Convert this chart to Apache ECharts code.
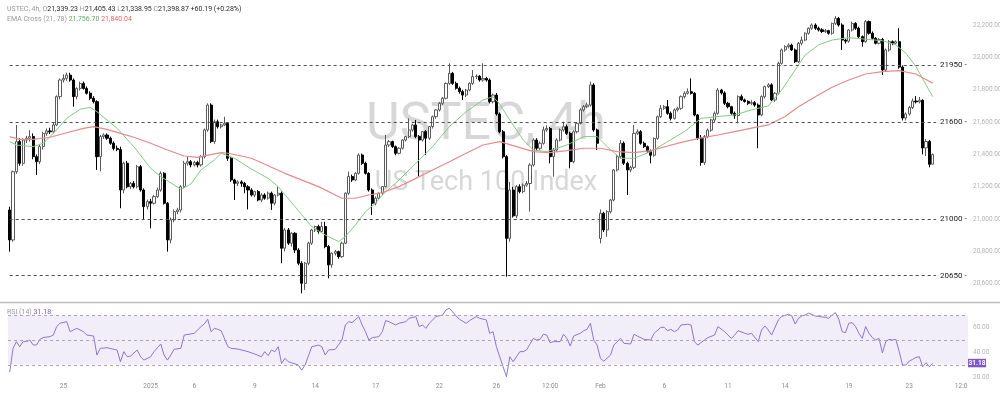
<!DOCTYPE html>
<html>
<head>
<meta charset="utf-8">
<script src="https://cdn.jsdelivr.net/npm/echarts@6/dist/echarts.min.js"></script>
<style>
html,body{margin:0;padding:0;background:#ffffff;}
#chart{width:1000px;height:402px;}
</style>
</head>
<body>
<div id="chart"></div>
<script>
// ---- DATA ----
// USTEC 4h candles: [open, high, low, close]
const candles = [
[21056,21077,20799,20871],[20871,21300,20860,21293],[21293,21582,21280,21479],[21479,21500,21330,21345],[21345,21500,21330,21489],
[21489,21515,21470,21500],[21500,21550,21480,21510],[21510,21530,21370,21386],[21386,21400,21273,21355],[21355,21460,21340,21448],
[21448,21540,21430,21530],[21530,21560,21515,21545],[21545,21565,21525,21540],[21540,21600,21530,21582],[21582,21765,21575,21757],
[21757,21870,21740,21860],[21860,21895,21845,21870],[21870,21905,21855,21890],[21890,21905,21850,21860],[21860,21870,21695,21757],
[21757,21815,21740,21808],[21808,21850,21795,21839],[21839,21850,21800,21808],[21808,21820,21770,21778],[21778,21790,21735,21747],
[21747,21760,21715,21726],[21726,21735,21304,21386],[21386,21520,21295,21510],[21510,21530,21495,21520],[21520,21530,21490,21500],
[21500,21510,21460,21469],[21469,21480,21425,21437],[21437,21455,21420,21430],[21430,21448,21067,21180],[21180,21355,21160,21345],
[21345,21360,21190,21200],[21200,21230,21185,21221],[21221,21235,21190,21200],[21200,21335,21190,21324],[21324,21335,21170,21180],
[21180,21190,20995,21077],[21077,21120,21060,21108],[21108,21125,20943,21098],[21098,21150,21090,21139],[21139,21195,21130,21180],
[21180,21295,21170,21283],[21283,21290,21090,21098],[21098,21105,20799,20871],[20871,21010,20850,20995],[20995,21060,20980,21046],
[21046,21070,21030,21056],[21056,21210,21040,21200],[21200,21360,21190,21345],[21345,21386,21330,21355],[21355,21365,21320,21335],
[21335,21360,21325,21350],[21350,21360,21320,21335],[21335,21395,21325,21386],[21386,21560,21375,21551],[21551,21716,21540,21705],
[21705,21716,21470,21479],[21479,21615,21465,21602],[21602,21615,21560,21571],[21571,21590,21560,21582],[21582,21633,21575,21592],
[21592,21600,21360,21376],[21376,21385,21230,21242],[21242,21250,21118,21221],[21221,21240,21205,21230],[21230,21240,21200,21221],
[21221,21230,21160,21200],[21200,21210,21060,21180],[21180,21190,21140,21149],[21149,21175,21135,21170],[21170,21180,21110,21118],
[21118,21160,21105,21149],[21149,21160,21120,21129],[21129,21170,21120,21160],[21160,21170,21057,21098],[21098,21155,21085,21149],
[21149,21201,21140,21160],[21160,21170,20727,20820],[20820,20945,20800,20933],[20933,20945,20840,20851],[20851,20920,20830,20912],
[20912,20920,20790,20809],[20809,20820,20715,20727],[20727,20740,20541,20603],[20603,20735,20562,20727],[20727,20860,20715,20851],
[20851,20940,20840,20933],[20933,20960,20920,20954],[20954,20965,20910,20923],[20923,20984,20915,20954],[20954,20984,20820,20830],
[20830,20840,20634,20717],[20717,20795,20700,20789],[20789,20810,20775,20799],[20799,20805,20755,20768],[20768,20860,20760,20851],
[20851,21165,20845,21160],[21160,21294,21150,21263],[21263,21275,21230,21242],[21242,21290,21235,21283],[21283,21407,21275,21396],
[21396,21405,21335,21345],[21345,21355,21275,21283],[21283,21290,21170,21180],[21180,21190,21026,21098],[21098,21140,21085,21129],
[21129,21165,21120,21160],[21160,21205,21150,21201],[21201,21520,21195,21458],[21458,21490,21445,21479],[21479,21485,21440,21448],
[21448,21455,21395,21407],[21407,21445,21400,21438],[21438,21495,21430,21489],[21489,21515,21480,21510],[21510,21623,21500,21551],
[21551,21590,21540,21582],[21582,21613,21500,21510],[21510,21520,21263,21489],[21489,21545,21480,21541],[21541,21550,21396,21500],
[21500,21575,21490,21572],[21572,21640,21560,21633],[21633,21680,21620,21675],[21675,21725,21665,21716],[21716,21755,21705,21747],
[21747,21845,21740,21839],[21839,21963,21830,21901],[21901,21910,21830,21839],[21839,21850,21800,21809],[21809,21820,21775,21788],
[21788,21800,21736,21767],[21767,21805,21755,21798],[21798,21845,21790,21839],[21839,21922,21830,21881],[21881,21895,21865,21883],
[21883,21890,21850,21860],[21860,21963,21850,21870],[21870,21880,21850,21860],[21860,21870,21715,21726],[21726,21775,21715,21767],
[21767,21780,21640,21650],[21650,21660,21530,21540],[21540,21550,21375,21386],[21386,21395,20644,20881],[20881,21230,20860,21180],
[21180,21200,21010,21020],[21020,21210,21005,21200],[21200,21215,21160,21170],[21170,21220,21160,21210],[21210,21235,21200,21220],
[21220,21345,21046,21334],[21334,21500,21325,21489],[21489,21500,21425,21438],[21438,21480,21425,21469],[21469,21572,21460,21551],
[21551,21580,21540,21560],[21560,21570,21345,21386],[21386,21440,21262,21427],[21427,21500,21415,21489],[21489,21560,21480,21551],
[21551,21602,21540,21571],[21571,21585,21520,21530],[21530,21540,21314,21355],[21355,21550,21345,21540],[21540,21600,21530,21592],
[21592,21685,21585,21675],[21675,21705,21665,21695],[21695,21720,21685,21705],[21705,21850,21695,21829],[21829,21840,21540,21551],
[21551,21560,21427,21469],[20880,21060,20850,21036],[21036,21045,20920,20933],[20933,21055,20890,21046],[21046,21125,21035,21118],
[21118,21310,21110,21304],[21304,21395,21295,21386],[21386,21489,21375,21469],[21469,21480,21335,21345],[21345,21355,21149,21304],
[21304,21330,21290,21320],[21320,21582,21310,21530],[21530,21555,21520,21540],[21540,21550,21460,21469],[21469,21480,21440,21448],
[21448,21455,21410,21420],[21420,21430,21345,21395],[21395,21505,21385,21499],[21499,21640,21490,21633],[21633,21705,21625,21685],
[21685,21705,21675,21695],[21695,21736,21645,21654],[21654,21665,21610,21623],[21623,21685,21615,21675],[21675,21695,21665,21685],
[21685,21765,21675,21757],[21757,21790,21745,21778],[21778,21808,21770,21788],[21788,21870,21770,21778],[21778,21785,21635,21644],
[21644,21650,21490,21500],[21500,21520,21330,21350],[21350,21520,21335,21510],[21510,21560,21500,21550],[21550,21620,21540,21613],
[21613,21665,21600,21654],[21654,21810,21645,21798],[21798,21805,21770,21780],[21780,21790,21705,21716],[21716,21725,21685,21695],
[21695,21700,21645,21654],[21654,21665,21620,21640],[21640,21765,21592,21757],[21757,21770,21730,21737],[21737,21745,21720,21727],
[21727,21735,21705,21716],[21716,21735,21705,21720],[21720,21730,21695,21705],[21705,21715,21438,21644],[21644,21765,21635,21757],
[21757,21825,21745,21819],[21819,21840,21810,21830],[21830,21840,21730,21737],[21737,21785,21725,21778],[21778,21973,21770,21963],
[21963,22055,21955,22046],[22046,22075,22035,22066],[22066,22087,22055,22076],[22076,22085,22040,22046],[22046,22055,21965,21973],
[21973,22095,21965,22087],[22087,22128,22075,22107],[22107,22155,22100,22149],[22149,22185,22140,22180],[22180,22210,22170,22200],
[22200,22210,22170,22180],[22180,22190,22160,22170],[22170,22180,22150,22160],[22160,22175,22150,22165],[22165,22170,22140,22149],
[22149,22215,22140,22210],[22210,22256,22200,22241],[22241,22250,22190,22200],[22200,22210,22046,22107],[22107,22115,22085,22100],
[22100,22175,22090,22169],[22169,22221,22160,22210],[22210,22218,22170,22180],[22180,22190,22120,22128],[22128,22135,22066,22097],
[22097,22231,22090,22221],[22221,22228,22140,22149],[22149,22160,22110,22118],[22118,22125,22080,22087],[22087,22120,22080,22110],
[22110,22120,21891,21922],[21922,22055,21915,22046],[22046,22107,22035,22097],[22097,22105,22075,22087],[22087,22105,22080,22097],
[22097,22180,21930,21940],[21940,21950,21610,21625],[21625,21660,21610,21650],[21650,21700,21640,21690],[21690,21745,21680,21730],
[21730,21760,21715,21725],[21725,21755,21715,21735],[21735,21740,21400,21440],[21440,21495,21390,21480],[21480,21490,21320,21339],
[21339.23,21405.43,21338.95,21398.87]
];

// EMA 21 (green) points: [candle index, value]
const emaFast = [
[0,21479],[2,21458],[7,21448],[10,21469],[13,21530],[17,21623],[21,21679],[24,21691],[26,21664],[29,21613],[32,21561],[37,21448],
[42,21314],[45,21263],[49,21211],[51,21184],[54,21217],[57,21304],[61,21366],[63,21407],[67,21376],[72,21310],[77,21252],[80,21201],
[85,21077],[90,20953],[94,20902],[98,20861],[100,20892],[103,20964],[106,21046],[109,21098],[111,21149],[116,21242],[121,21345],
[126,21448],[131,21572],[136,21664],[141,21736],[144,21757],[146,21710],[149,21613],[153,21489],[156,21427],[160,21417],[166,21458],
[171,21510],[175,21510],[178,21448],[182,21376],[186,21376],[191,21417],[196,21479],[201,21541],[206,21623],[211,21634],[216,21644],
[221,21675],[226,21700],[230,21798],[234,21922],[237,22015],[241,22077],[245,22107],[250,22122],[255,22112],[260,22103],[264,22077],
[267,22025],[270,21943],[273,21830],[275,21756.7]
];

// EMA 78 (red) points: [candle index, value]
const emaSlow = [
[0,21510],[3,21493],[7,21493],[12,21506],[17,21534],[22,21561],[25,21572],[29,21555],[33,21530],[37,21506],[42,21469],[47,21427],
[52,21390],[56,21382],[59,21396],[63,21411],[65,21407],[69,21390],[72,21376],[82,21283],[92,21201],[99,21129],[103,21129],[107,21149],
[111,21164],[116,21201],[121,21252],[126,21304],[131,21355],[136,21407],[141,21458],[146,21479],[151,21448],[156,21417],[161,21411],
[166,21423],[171,21438],[176,21438],[181,21417],[186,21411],[191,21423],[196,21452],[201,21479],[206,21502],[211,21520],[216,21541],
[221,21562],[226,21582],[231,21634],[235,21695],[240,21757],[245,21815],[250,21860],[255,21897],[260,21912],[265,21918],[270,21897],
[275,21840.04]
];

// RSI (14) points: [candle index, value]
const rsi = [
[0,24],[1,43.3],[2,48.7],[3,44.6],[4,48.7],[5,48.7],[6,50],[7,46],[8,46],[9,50.5],[10,52],[12,52.7],[13,54],[14,60.8],[15,63.5],
[17,64.8],[18,56.7],[19,58.1],[20,59.4],[22,56.7],[23,54],[25,53.2],[26,37.9],[27,43.3],[29,43.8],[31,42.5],[32,41.9],[33,32.5],
[34,40.6],[35,36.5],[36,37.1],[38,41.9],[39,36.5],[40,33.8],[42,36.5],[43,40.6],[45,46.8],[46,37.9],[47,33.8],[48,37.9],[49,42.5],
[51,43.3],[52,54],[54,54.9],[55,55.4],[57,60.8],[58,63],[59,66.7],[60,56.7],[61,59.4],[62,58.6],[63,57.5],[65,44.6],[66,43.3],
[68,42.7],[71,40.6],[73,38.7],[75,36.5],[76,40.6],[77,37.4],[78,41.9],[79,40.6],[80,44.6],[81,31.1],[82,35.2],[83,32.5],[84,31.7],
[86,29.8],[87,25.7],[88,29.8],[90,44.6],[92,45.9],[93,44.6],[94,37.9],[95,41.9],[97,42.5],[99,50],[100,62.1],[101,64.8],[102,64],
[104,68.9],[105,62.1],[106,56.7],[107,50],[108,51.9],[110,52.7],[111,56.7],[112,65.6],[113,64.8],[115,62.1],[116,63.5],[118,64.8],
[119,67.5],[121,68.9],[122,60.8],[123,62.1],[124,59.4],[125,63.5],[127,68.9],[129,70.2],[130,74.3],[131,75.6],[133,69.4],[134,66.7],
[136,63.5],[137,65.6],[139,68.9],[140,67.5],[142,66.2],[143,55.4],[144,56.7],[145,44.6],[146,36.5],[147,28.4],[148,20.4],[149,36.5],
[150,32.5],[152,40.6],[153,40.6],[154,42],[156,51.3],[157,50],[158,50.5],[159,54.6],[160,54],[161,47.8],[162,48.7],[164,48.7],
[165,54.6],[166,51.3],[167,45.1],[168,53.2],[170,55.4],[171,57.5],[172,58.6],[173,63.5],[174,50],[175,45.9],[176,35.2],[177,32.9],
[179,37.9],[180,45.9],[182,51.3],[183,47.3],[185,46.8],[186,54.6],[187,53.2],[189,50.5],[191,50],[192,55.4],[194,60.2],[195,60.2],
[196,57.5],[197,58.6],[198,56.7],[199,58.1],[200,62.1],[202,62.7],[203,62.1],[204,48.7],[205,45.9],[207,50],[208,51.9],[210,54],
[211,60.8],[213,56.7],[215,51.3],[216,54],[217,57.5],[219,55.4],[220,54.6],[221,55.4],[223,48.7],[224,58.1],[225,61.3],[226,58.1],
[227,54],[229,66.2],[230,68.9],[232,70.8],[233,69.5],[234,62.9],[235,67.5],[236,69.4],[237,70.2],[238,71.6],[240,69.4],[241,68.9],
[243,68.3],[244,67.5],[245,70],[246,72.1],[247,66.7],[248,56.7],[249,55.9],[250,63.5],[251,64],[252,60.8],[253,55.4],[254,51.3],
[255,60.8],[256,55.4],[257,52],[258,50],[259,51.3],[260,39.5],[261,48.7],[262,50.5],[263,50],[264,50.5],[265,40.8],[266,29.8],
[267,29.8],[268,33],[269,34.4],[270,36],[271,36.5],[272,28.4],[273,31.7],[274,28.4],[275,31.18]
];

// Horizontal support / resistance levels
const levels = [21950, 21600, 21000, 20650];
// RSI guide levels
const rsiGuides = [70, 50, 30];

// Time-axis tick labels and the candle slot they sit under
const tickText = ['25','2025','6','9','14','17','22','26','12:00','Feb','6','11','14','19','23','12:00'];
const tickSlot = [16, 42, 55, 73, 91, 109, 128, 145, 161, 176, 195, 214, 231, 250, 268, 284];

// Header / legend texts
const headerSymbol = 'USTEC, 4h, ';
const headerOHLC = [['O','21,339.23'],['H','21,405.43'],['L','21,338.95'],['C','21,398.87']];
const headerChange = '+60.19 (+0.28%)';
const emaLabel = 'EMA Cross (21, 78)';
const emaValues = ['21,756.70', '21,840.04'];
const rsiLabel = 'RSI (14)';
const rsiLast = '31.18';
const watermark = ['USTEC, 4h', 'US Tech 100 Index'];

// ---- CHART ----
const SLOTS = 286; // candle slots incl. empty future area
const cats = [];
for (let i = 0; i < SLOTS; i++) cats.push(String(i));
const tickMap = {};
tickSlot.forEach((s, j) => { tickMap[s] = tickText[j]; });

const FONT = 'Roboto, "Open Sans", sans-serif';
const GREEN = '#86c98a';
const RED = '#e58a8e';
const PURPLE = '#7e57c2';

const chart = echarts.init(document.getElementById('chart'), null, {renderer: 'canvas'});

const hdrRich = {
  g: {fill: '#9a9a9a', fontSize: 7, fontFamily: FONT},
  d: {fill: '#2a2a2a', fontSize: 7, fontFamily: FONT},
  gr: {fill: '#5fae63', fontSize: 7, fontFamily: FONT},
  rd: {fill: '#e06666', fontSize: 7, fontFamily: FONT},
  pu: {fill: PURPLE, fontSize: 7, fontFamily: FONT}
};
let hdr1 = '{g|' + headerSymbol + '}';
headerOHLC.forEach(p => { hdr1 += '{g|' + p[0] + '}{d|' + p[1] + '}{g| }'; });
hdr1 += '{d|' + headerChange + '}';
const hdr2 = '{g|' + emaLabel + ' }{gr|' + emaValues[0] + '}{g| }{rd|' + emaValues[1] + '}';
const hdr3 = '{g|' + rsiLabel + ' }{pu|' + rsiLast + '}';

const option = {
  animation: false,
  backgroundColor: '#ffffff',
  grid: [
    {left: 8, right: 32, top: 0, height: 316.15, outerBoundsMode: 'none', containLabel: false},
    {left: 8, right: 32, top: 302.8, height: 74.4, outerBoundsMode: 'none', containLabel: false}
  ],
  xAxis: [
    {type: 'category', gridIndex: 0, data: cats, boundaryGap: true, show: false},
    {type: 'category', gridIndex: 1, data: cats, boundaryGap: true,
      axisLine: {show: false}, axisTick: {show: false}, splitLine: {show: false},
      axisLabel: {interval: 0, margin: 6, color: '#8c8c8c', fontSize: 6.5, fontFamily: FONT,
        formatter: (v, i) => tickMap[i] || ''}}
  ],
  yAxis: [
    {type: 'value', gridIndex: 0, position: 'right', min: 20400, max: 22354.56, interval: 200, scale: false,
      splitLine: {show: false}, axisLine: {show: false}, axisTick: {show: false},
      axisLabel: {margin: 5, color: '#b3b3b3', fontSize: 6.5, fontFamily: FONT, showMinLabel: false, showMaxLabel: false,
        formatter: v => (v < 20600 || v > 22200) ? '' : v.toLocaleString('en-US', {minimumFractionDigits: 2, maximumFractionDigits: 2})}},
    {type: 'value', gridIndex: 1, position: 'right', min: 20, max: 80, interval: 20,
      splitLine: {show: false}, axisLine: {show: false}, axisTick: {show: false},
      axisLabel: {margin: 5, color: '#b3b3b3', fontSize: 6.5, fontFamily: FONT,
        formatter: v => v > 60 ? '' : v.toFixed(2)}}
  ],
  series: [
    {
      type: 'candlestick', xAxisIndex: 0, yAxisIndex: 0, barWidth: 2.6, silent: true, z: 3,
      data: candles.map(r => [r[0], r[3], r[2], r[1]]),
      itemStyle: {color: '#ffffff', color0: '#000000', borderColor: '#5a5a5a', borderColor0: '#000000', borderWidth: 1},
      markLine: {
        silent: true, symbol: 'none', animation: false,
        lineStyle: {type: [3, 3], color: '#4d4d4d', width: 1},
        label: {show: true, position: 'end', distance: 4, color: '#1a1a1a', fontSize: 8, fontFamily: FONT,
          formatter: p => (p.name || p.value) + ' -'},
        emphasis: {disabled: true},
        data: levels.map(v => [{coord: [0, v], name: String(v)}, {coord: [candles.length, v]}])
      }
    },
    {type: 'line', xAxisIndex: 0, yAxisIndex: 0, data: emaFast, symbol: 'none', silent: true, z: 4,
      lineStyle: {color: GREEN, width: 1}},
    {type: 'line', xAxisIndex: 0, yAxisIndex: 0, data: emaSlow, symbol: 'none', silent: true, z: 4,
      lineStyle: {color: RED, width: 1.2}},
    {type: 'line', xAxisIndex: 1, yAxisIndex: 1, data: rsi, symbol: 'none', silent: true, z: 4,
      lineStyle: {color: '#8d76c8', width: 1},
      markArea: {silent: true, itemStyle: {color: 'rgba(126,87,194,0.10)'}, label: {show: false},
        data: [[{yAxis: rsiGuides[2]}, {yAxis: rsiGuides[0]}]]},
      markLine: {silent: true, symbol: 'none', label: {show: false}, emphasis: {disabled: true},
        lineStyle: {type: [3, 3], color: '#a9a3bd', width: 1},
        data: rsiGuides.map(v => ({yAxis: v}))}
    }
  ],
  graphic: [
    {type: 'text', z: -10, x: 486, y: 126, silent: true,
      style: {text: watermark[0], fontSize: 52, fontFamily: FONT, fill: 'rgba(110,110,110,0.28)', align: 'center', verticalAlign: 'middle'}},
    {type: 'text', z: -10, x: 486, y: 183, silent: true,
      style: {text: watermark[1], fontSize: 27, fontFamily: FONT, fill: 'rgba(110,110,110,0.28)', align: 'center', verticalAlign: 'middle'}},
    {type: 'text', z: 50, x: 7, y: 9.5, silent: true,
      style: {text: hdr1, rich: hdrRich, verticalAlign: 'middle', fontSize: 7, fontFamily: FONT}},
    {type: 'text', z: 50, x: 7, y: 19, silent: true,
      style: {text: hdr2, rich: hdrRich, verticalAlign: 'middle', fontSize: 7, fontFamily: FONT}},
    {type: 'text', z: 50, x: 7, y: 312.5, silent: true,
      style: {text: hdr3, rich: hdrRich, verticalAlign: 'middle', fontSize: 7, fontFamily: FONT}},
    {type: 'line', z: 50, silent: true, shape: {x1: 0, y1: 302.5, x2: 1000, y2: 302.5},
      style: {stroke: '#bdbdbd', lineWidth: 1.5}},
    {type: 'rect', z: 100, silent: true, shape: {x: 967.5, y: 381, width: 32.5, height: 21},
      style: {fill: '#ffffff'}},
    {type: 'rect', z: 60, silent: true, shape: {x: 968, y: 358.8, width: 18, height: 8.5},
      style: {fill: PURPLE}},
    {type: 'text', z: 61, x: 977, y: 363.1, silent: true,
      style: {text: rsiLast, fontSize: 6.5, fontFamily: FONT, fill: '#ffffff', align: 'center', verticalAlign: 'middle', fontWeight: 'bold'}}
  ]
};
chart.setOption(option);
</script>
</body>
</html>
